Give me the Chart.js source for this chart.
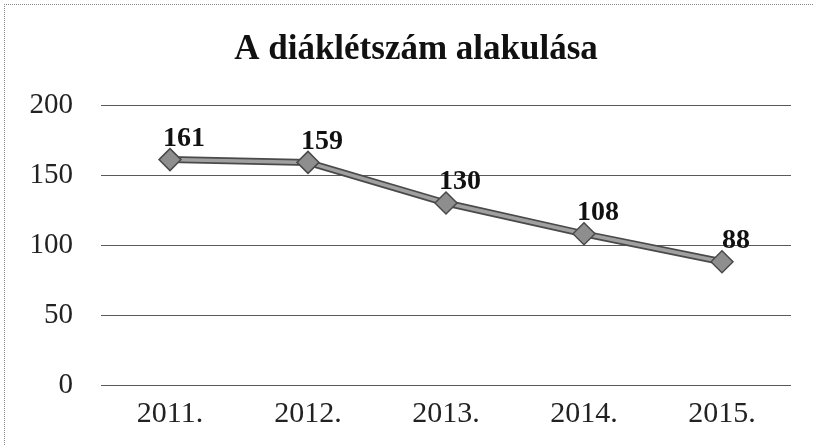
<!DOCTYPE html>
<html>
<head>
<meta charset="utf-8">
<script src="https://cdn.jsdelivr.net/npm/chart.js@4/dist/chart.umd.min.js"></script>
<style>
  body { margin: 0; background: #fff; }
  #wrap { position: relative; width: 813px; height: 445px; }
  #wrap:before {
    content: ""; position: absolute; left: 4px; top: 4px; right: 0; bottom: 0;
    border-left: 1px dotted #888; border-top: 1px dotted #888; pointer-events: none;
  }
</style>
</head>
<body>
<div id="wrap"><canvas id="myChart" width="813" height="445"></canvas></div>
<script>
const title = "A diáklétszám alakulása"
const years = ["2011.", "2012.", "2013.", "2014.", "2015."]
const students = [161, 159, 130, 108, 88]
const yMin = 0
const yMax = 200
const yStep = 50

const serif = "'Liberation Serif', 'Times New Roman', serif"

// title sits a bit right of the canvas centre in the original, so draw it here
const chartTitle = {
  id: "chartTitle",
  afterDraw(chart) {
    const ctx = chart.ctx
    ctx.save()
    ctx.font = "bold 35px " + serif
    ctx.fillStyle = "#111"
    ctx.textAlign = "center"
    ctx.textBaseline = "middle"
    ctx.fillText(title, 416, 50)
    ctx.restore()
  },
}

// value labels above each point, a little to the right like the original
const pointLabels = {
  id: "pointLabels",
  afterDatasetsDraw(chart) {
    const ctx = chart.ctx
    const meta = chart.getDatasetMeta(1)
    ctx.save()
    ctx.font = "bold 28px " + serif
    ctx.fillStyle = "#111"
    ctx.textAlign = "center"
    ctx.textBaseline = "middle"
    meta.data.forEach((pt, i) => {
      ctx.fillText(String(students[i]), pt.x + 14, pt.y - 21)
    })
    ctx.restore()
  },
}

new Chart(document.getElementById("myChart"), {
  type: "line",
  data: {
    labels: years,
    datasets: [
      {
        // dark outline of the line
        data: students,
        borderColor: "#4a4a4a",
        borderWidth: 7,
        pointRadius: 0,
        tension: 0,
        order: 2,
      },
      {
        data: students,
        borderColor: "#a0a0a0",
        borderWidth: 3.5,
        pointStyle: "rectRot",
        pointRadius: 11,
        pointBackgroundColor: "#8e8e8e",
        pointBorderColor: "#4a4a4a",
        pointBorderWidth: 1.5,
        tension: 0,
        order: 1,
      },
    ],
  },
  options: {
    responsive: false,
    animation: false,
    layout: { padding: { top: 105, right: 22, bottom: 0, left: 0 } },
    plugins: {
      legend: { display: false },
      tooltip: { enabled: false },
      title: { display: false },
    },
    scales: {
      x: {
        offset: true,
        grid: { display: false, drawTicks: false },
        border: { display: false },
        ticks: { color: "#222", font: { family: serif, size: 30 }, padding: 11 },
        afterFit: (s) => { s.height = 60 },
      },
      y: {
        min: yMin,
        max: yMax,
        grid: { color: "#5a5a5a", lineWidth: 1, drawTicks: false },
        border: { display: false },
        ticks: { stepSize: yStep, color: "#222", font: { family: serif, size: 29 }, padding: 28 },
        afterFit: (s) => { s.width = 101 },
      },
    },
  },
  plugins: [pointLabels, chartTitle],
})
</script>
</body>
</html>
